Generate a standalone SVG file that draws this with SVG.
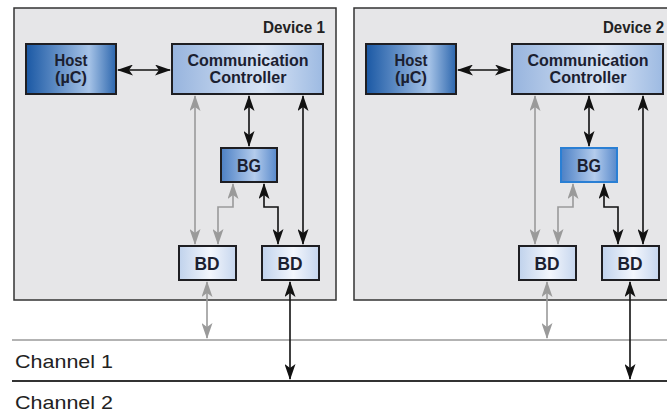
<svg xmlns="http://www.w3.org/2000/svg" width="667" height="415" viewBox="0 0 667 415">
  <style>
    .dev { fill: #e6e6e8; stroke: #333; stroke-width: 1.5; }
    .node { stroke: #1e1e22; stroke-width: 2; }
    .lbl { font-family: "Liberation Sans", "DejaVu Sans", sans-serif; font-weight: bold; fill: #1b2030; text-anchor: middle; }
    .devlbl { font-family: "Liberation Sans", "DejaVu Sans", sans-serif; font-weight: bold; font-size: 16px; fill: #222; text-anchor: end; }
    .chlbl { font-family: "Liberation Sans", "DejaVu Sans", sans-serif; font-size: 19px; fill: #222; }
    .blk { fill: none; stroke: #111; stroke-width: 1.6; marker-start: url(#ahB); marker-end: url(#ahB); }
    .gry { fill: none; stroke: #9a9a9a; stroke-width: 1.6; marker-start: url(#ahG); marker-end: url(#ahG); }
  </style>
  <defs>
    <linearGradient id="gHost" x1="0" y1="0" x2="1" y2="0">
      <stop offset="0" stop-color="#1a58a4"/>
      <stop offset="0.7" stop-color="#a6c3e7"/>
      <stop offset="1" stop-color="#2c66ad"/>
    </linearGradient>
    <linearGradient id="gCC" x1="0" y1="0" x2="1" y2="0">
      <stop offset="0" stop-color="#97b4de"/>
      <stop offset="0.6" stop-color="#d8e4f5"/>
      <stop offset="1" stop-color="#9dbae2"/>
    </linearGradient>
    <linearGradient id="gBG" x1="0" y1="0" x2="1" y2="0">
      <stop offset="0" stop-color="#4c80c5"/>
      <stop offset="0.6" stop-color="#b4ccec"/>
      <stop offset="1" stop-color="#5889cb"/>
    </linearGradient>
    <linearGradient id="gBD" x1="0" y1="0" x2="1" y2="0">
      <stop offset="0" stop-color="#c0d2ec"/>
      <stop offset="0.55" stop-color="#f3f6fc"/>
      <stop offset="1" stop-color="#c6d6ee"/>
    </linearGradient>
    <marker id="ahB" viewBox="0 0 16 11" refX="15" refY="5.5" markerWidth="16" markerHeight="11" markerUnits="userSpaceOnUse" orient="auto-start-reverse">
      <path d="M0,0 L16,5.5 L0,11 L4,5.5 z" fill="#111"/>
    </marker>
    <marker id="ahG" viewBox="0 0 16 11" refX="15" refY="5.5" markerWidth="16" markerHeight="11" markerUnits="userSpaceOnUse" orient="auto-start-reverse">
      <path d="M0,0 L16,5.5 L0,11 L4,5.5 z" fill="#9a9a9a"/>
    </marker>
  </defs>

  <rect width="667" height="415" fill="#ffffff"/>

  <!-- Device enclosures -->
  <g id="device1">
    <rect class="dev" x="14" y="8" width="322" height="292"/>
    <text class="devlbl" x="325" y="33" textLength="62" lengthAdjust="spacingAndGlyphs">Device 1</text>
  </g>
  <g id="device2">
    <rect class="dev" x="354" y="8" width="330" height="292"/>
    <text class="devlbl" x="664" y="33" textLength="61" lengthAdjust="spacingAndGlyphs">Device 2</text>
  </g>

  <!-- Bus channels -->
  <g id="channel1">
    <line x1="12" y1="340" x2="667" y2="340" stroke="#9a9a9a" stroke-width="1.3"/>
    <text class="chlbl" x="15" y="368" textLength="98" lengthAdjust="spacingAndGlyphs">Channel 1</text>
  </g>
  <g id="channel2">
    <line x1="12" y1="381" x2="667" y2="381" stroke="#333" stroke-width="2"/>
    <text class="chlbl" x="15" y="409" textLength="98" lengthAdjust="spacingAndGlyphs">Channel 2</text>
  </g>

  <!-- Device 1 nodes -->
  <g id="host1">
    <rect class="node" x="26" y="44" width="90" height="50" fill="url(#gHost)"/>
    <text class="lbl" x="71" y="66" font-size="16" textLength="33" lengthAdjust="spacingAndGlyphs">Host</text>
    <text class="lbl" x="71" y="83" font-size="16" textLength="32" lengthAdjust="spacingAndGlyphs">(µC)</text>
  </g>
  <g id="cc1">
    <rect class="node" x="172" y="44" width="151" height="50" fill="url(#gCC)"/>
    <text class="lbl" x="248" y="66" font-size="16" textLength="121" lengthAdjust="spacingAndGlyphs">Communication</text>
    <text class="lbl" x="248" y="83" font-size="16" textLength="77" lengthAdjust="spacingAndGlyphs">Controller</text>
  </g>
  <g id="bg1">
    <rect class="node" x="221" y="148" width="56" height="34" fill="url(#gBG)"/>
    <text class="lbl" x="249" y="172" font-size="18" textLength="24" lengthAdjust="spacingAndGlyphs">BG</text>
  </g>
  <g id="bd1a">
    <rect class="node" x="179" y="246" width="57" height="34" fill="url(#gBD)"/>
    <text class="lbl" x="207" y="270" font-size="18" textLength="25" lengthAdjust="spacingAndGlyphs">BD</text>
  </g>
  <g id="bd1b">
    <rect class="node" x="262" y="246" width="57" height="34" fill="url(#gBD)"/>
    <text class="lbl" x="290" y="270" font-size="18" textLength="25" lengthAdjust="spacingAndGlyphs">BD</text>
  </g>

  <!-- Device 2 nodes -->
  <g id="host2">
    <rect class="node" x="366" y="44" width="90" height="50" fill="url(#gHost)"/>
    <text class="lbl" x="411" y="66" font-size="16" textLength="33" lengthAdjust="spacingAndGlyphs">Host</text>
    <text class="lbl" x="411" y="83" font-size="16" textLength="32" lengthAdjust="spacingAndGlyphs">(µC)</text>
  </g>
  <g id="cc2">
    <rect class="node" x="512" y="44" width="151" height="50" fill="url(#gCC)"/>
    <text class="lbl" x="588" y="66" font-size="16" textLength="121" lengthAdjust="spacingAndGlyphs">Communication</text>
    <text class="lbl" x="588" y="83" font-size="16" textLength="77" lengthAdjust="spacingAndGlyphs">Controller</text>
  </g>
  <g id="bg2">
    <rect x="561" y="148" width="56" height="34" fill="url(#gBG)" stroke="#2a7fd4" stroke-width="2"/>
    <text class="lbl" x="589" y="172" font-size="18" textLength="24" lengthAdjust="spacingAndGlyphs">BG</text>
  </g>
  <g id="bd2a">
    <rect class="node" x="519" y="246" width="57" height="34" fill="url(#gBD)"/>
    <text class="lbl" x="547" y="270" font-size="18" textLength="25" lengthAdjust="spacingAndGlyphs">BD</text>
  </g>
  <g id="bd2b">
    <rect class="node" x="602" y="246" width="57" height="34" fill="url(#gBD)"/>
    <text class="lbl" x="630" y="270" font-size="18" textLength="25" lengthAdjust="spacingAndGlyphs">BD</text>
  </g>

  <!-- Connectors -->
  <g id="connectors">
    <!-- device 1 -->
    <path class="blk" d="M118,70 H170"/>
    <path class="blk" d="M249,96 V146"/>
    <path class="gry" d="M195,96 V244"/>
    <path class="blk" d="M303,96 V244"/>
    <path class="gry" d="M233,184 V207 H218 V244"/>
    <path class="blk" d="M264,184 V207 H278 V244"/>
    <path class="gry" d="M207,282 V338"/>
    <path class="blk" d="M290,282 V379"/>
    <!-- device 2 -->
    <path class="blk" d="M458,70 H510"/>
    <path class="blk" d="M589,96 V146"/>
    <path class="gry" d="M535,96 V244"/>
    <path class="blk" d="M643,96 V244"/>
    <path class="gry" d="M573,184 V207 H558 V244"/>
    <path class="blk" d="M604,184 V207 H618 V244"/>
    <path class="gry" d="M547,282 V338"/>
    <path class="blk" d="M630,282 V379"/>
  </g>
</svg>
